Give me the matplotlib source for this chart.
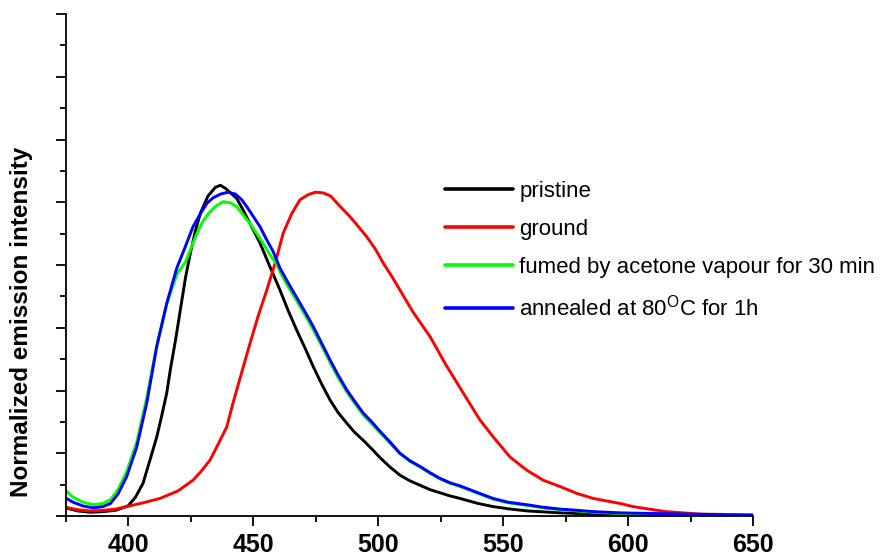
import matplotlib
matplotlib.use("Agg")
import matplotlib.pyplot as plt
from matplotlib.ticker import MultipleLocator

plt.rcParams['font.family'] = ['Liberation Sans', 'DejaVu Sans']
plt.rcParams['mathtext.fontset'] = 'custom'
plt.rcParams['mathtext.rm'] = 'Liberation Sans'

# Wavelength (nm) and normalized emission intensity (arbitrary units, axis 0-8)
pristine_x = [375, 380, 385, 390, 395, 400, 403, 406, 409, 411.5, 413.5, 415.5, 417, 419, 421, 423, 425,
              427, 429, 432, 435, 437, 439, 441, 443.5, 446, 448.8, 452.8, 456.8, 460.8, 464, 467.5,
              471, 474.1, 477.5, 480.8, 484, 487.5, 490.5, 494, 497.5, 500.8, 504.8, 508.8, 512.8,
              516.8, 520.8, 524.8, 528.8, 532.8, 540, 546, 553, 560, 573, 586, 600, 625, 650]
pristine_y = [0.13, 0.08, 0.06, 0.07, 0.09, 0.16, 0.30, 0.52, 0.92, 1.26, 1.60, 1.96, 2.35, 2.80, 3.30,
              3.80, 4.20, 4.55, 4.83, 5.10, 5.24, 5.27, 5.22, 5.15, 5.06, 4.88, 4.66, 4.35, 3.97, 3.60,
              3.28, 2.96, 2.66, 2.38, 2.10, 1.85, 1.65, 1.48, 1.34, 1.21, 1.07, 0.93, 0.78, 0.65, 0.56,
              0.49, 0.42, 0.37, 0.32, 0.28, 0.20, 0.15, 0.11, 0.08, 0.05, 0.03, 0.02, 0.01, 0.0]

ground_x = [375, 380, 385, 390, 395, 399.5, 406, 412.8, 420, 426, 429, 432.8, 435.5, 439.5, 442, 445,
            448.8, 452, 455.5, 459, 462.1, 465.5, 468.8, 472, 475, 478, 481, 484, 488.8, 492, 495.5,
            499, 502.1, 505.5, 508.8, 514, 520.8, 527, 534.1, 540.8, 546.1, 552.8, 559.5, 566.1,
            572.8, 579.5, 586.1, 596.8, 602, 615, 629, 650]
ground_y = [0.14, 0.10, 0.08, 0.09, 0.11, 0.15, 0.21, 0.28, 0.40, 0.57, 0.70, 0.89, 1.10, 1.42, 1.80,
            2.22, 2.75, 3.18, 3.60, 4.05, 4.51, 4.82, 5.04, 5.12, 5.16, 5.15, 5.10, 4.97, 4.77, 4.62,
            4.45, 4.25, 4.03, 3.82, 3.60, 3.25, 2.86, 2.42, 1.96, 1.53, 1.26, 0.94, 0.73, 0.57, 0.47,
            0.36, 0.28, 0.20, 0.15, 0.07, 0.03, 0.02]

fumed_x = [375, 378, 382, 386, 390, 393, 396, 399.5, 403.5, 407.5, 411.5, 415.5, 419.5, 423, 427.5,
           430, 432.8, 435.5, 438.2, 441, 443.5, 446, 448.8, 451.5, 454, 456.5, 459.2, 462, 464,
           467.5, 471, 474.1, 477.5, 480.8, 484, 487.5, 490.8, 494.1, 497.5, 500.8, 504.8, 508.8,
           512.8, 516.8, 520.8, 524.8, 528.8, 532.8, 540, 546, 552, 559.5, 566, 572.8, 580, 586,
           597, 610, 625, 650]
fumed_y = [0.41, 0.30, 0.22, 0.18, 0.20, 0.26, 0.42, 0.71, 1.18, 1.88, 2.72, 3.38, 3.85, 4.05, 4.50,
           4.70, 4.85, 4.95, 5.01, 4.99, 4.93, 4.80, 4.66, 4.50, 4.35, 4.18, 4.03, 3.80, 3.66,
           3.43, 3.19, 2.97, 2.71, 2.45, 2.21, 1.98, 1.79, 1.61, 1.47, 1.33, 1.16, 0.99,
           0.87, 0.78, 0.68, 0.59, 0.52, 0.47, 0.36, 0.27, 0.21, 0.17, 0.13, 0.10, 0.08, 0.06,
           0.04, 0.03, 0.02, 0.01]

annealed_x = [375, 378, 382, 386, 390, 393, 396, 399.5, 403.5, 407.5, 411.5, 415.5, 419.5, 423, 426,
              429, 431.5, 434, 437, 440, 443, 445.5, 447.5, 450, 452.8, 455.5, 458, 460.8, 464,
              467.5, 471, 474.1, 477.5, 480.8, 484, 487.5, 490.8, 494.1, 497.5, 500.8, 504.8, 508.8,
              512.8, 516.8, 520.8, 524.8, 528.8, 532.8, 540, 546, 552, 559.5, 566, 572.8, 580, 586,
              597, 610, 625, 650]
annealed_y = [0.29, 0.22, 0.16, 0.13, 0.15, 0.20, 0.35, 0.63, 1.10, 1.80, 2.70, 3.39, 3.95, 4.30, 4.61,
              4.82, 4.98, 5.07, 5.13, 5.16, 5.13, 5.04, 4.93, 4.78, 4.61, 4.40, 4.22, 3.95, 3.72,
              3.48, 3.24, 3.02, 2.75, 2.49, 2.25, 2.01, 1.82, 1.64, 1.50, 1.35, 1.18, 1.00,
              0.88, 0.79, 0.69, 0.60, 0.53, 0.48, 0.37, 0.28, 0.22, 0.18, 0.14, 0.11, 0.09, 0.07,
              0.05, 0.04, 0.03, 0.01]

labels = ['pristine', 'ground', 'fumed by acetone vapour for 30 min',
          r'annealed at 80$^{\mathrm{O}}$C for 1h']
colors = ['#000000', '#ff0000', '#00ff00', '#0000ff']
x_ticks = [400, 450, 500, 550, 600, 650]

fig = plt.figure(figsize=(8.85, 5.59), dpi=100)
ax = fig.add_axes([65.5 / 885, 1 - 516 / 559, (753 - 65.5) / 885, (516 - 14) / 559])

series = [(pristine_x, pristine_y), (ground_x, ground_y), (fumed_x, fumed_y), (annealed_x, annealed_y)]
for (xs, ys), c, lab in zip(series, colors, labels):
    ax.plot(xs, ys, color=c, lw=2.1, label=lab, solid_joinstyle='round', solid_capstyle='round')

ax.set_xlim(375, 650)
ax.set_ylim(0, 8)
ax.set_xticks(x_ticks)
ax.xaxis.set_minor_locator(MultipleLocator(25))
ax.yaxis.set_major_locator(MultipleLocator(1))
ax.yaxis.set_minor_locator(MultipleLocator(0.5))
ax.set_yticklabels([])
for s in ['top', 'right']:
    ax.spines[s].set_visible(False)
for s in ['left', 'bottom']:
    ax.spines[s].set_linewidth(1.3)
ax.tick_params(axis='both', which='major', length=7.5, width=1.3, direction='out')
ax.tick_params(axis='both', which='minor', length=4, width=1.3, direction='out')
ax.tick_params(axis='x', labelsize=18, pad=5)
for t in ax.get_xticklabels():
    t.set_fontweight('bold')
fig.text(22 / 885, 1 - 322 / 559, 'Normalized emission intensity', rotation=90,
         fontsize=17.5, fontweight='bold', ha='center', va='center')

leg = ax.legend(loc='upper left', bbox_to_anchor=(445 / 885, 1 - 181 / 559),
                bbox_transform=fig.transFigure, frameon=False, fontsize=16,
                handlelength=3.05, handletextpad=0.3, labelspacing=0.76,
                borderpad=0, borderaxespad=0)
for line in leg.get_lines():
    line.set_linewidth(2.6)

fig.savefig('out.png', dpi=100)
